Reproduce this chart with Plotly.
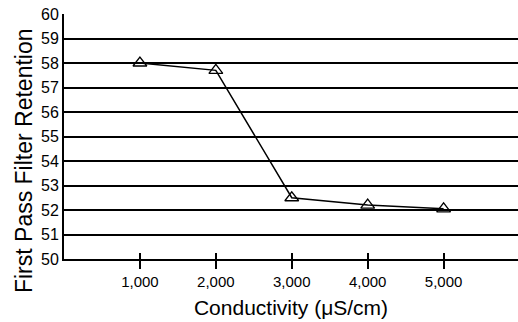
import plotly.graph_objects as go

conductivity = [1000, 2000, 3000, 4000, 5000]
retention = [58.0, 57.7, 52.5, 52.2, 52.05]
x_tick_vals = [1000, 2000, 3000, 4000, 5000]
x_tick_text = ["1,000", "2,000", "3,000", "4,000", "5,000"]
y_tick_vals = list(range(50, 61))

fig = go.Figure()
fig.add_trace(go.Scatter(
    x=conductivity, y=retention, mode="lines+markers",
    line=dict(color="black", width=1.5),
    marker=dict(symbol="triangle-up-open", size=12, color="black", line=dict(width=1.3)),
    showlegend=False,
))
# invisible companion trace so the inner half of the crossing x ticks is drawn
fig.add_trace(go.Scatter(
    x=conductivity, y=retention, xaxis="x2", mode="lines",
    opacity=0, hoverinfo="skip", showlegend=False,
))

fig.update_layout(
    width=518, height=322,
    margin=dict(l=64, r=0, t=14, b=63),
    paper_bgcolor="white", plot_bgcolor="white",
    font=dict(family="Liberation Sans, Arial, sans-serif", color="black", size=15),
    xaxis=dict(
        range=[0, 5980], tickvals=x_tick_vals, ticktext=x_tick_text,
        ticks="outside", ticklen=8, tickwidth=1.5, tickcolor="black",
        showgrid=False, zeroline=False, showline=True, linecolor="black", linewidth=2,
        tickfont=dict(size=15),
        title=dict(text="Conductivity (\u03bcS/cm)", font=dict(size=21), standoff=11),
    ),
    xaxis2=dict(
        overlaying="x", range=[0, 5980], side="bottom",
        tickvals=x_tick_vals, ticks="inside", ticklen=6, tickwidth=1.5,
        tickcolor="black", showticklabels=False, showgrid=False,
        zeroline=False, showline=False,
    ),
    yaxis=dict(
        range=[50, 60], tickvals=y_tick_vals,
        showgrid=True, gridcolor="black", gridwidth=2,
        showline=True, linecolor="black", linewidth=2,
        zeroline=False, ticks="", ticklen=0,
        tickfont=dict(size=16),
    ),
    annotations=[dict(
        text="First Pass Filter Retention", textangle=-90,
        xref="paper", yref="paper", x=-0.088, y=0.40,
        xanchor="center", yanchor="middle", showarrow=False,
        font=dict(size=23, color="black"),
    )],
)

fig.write_html("out.html")
